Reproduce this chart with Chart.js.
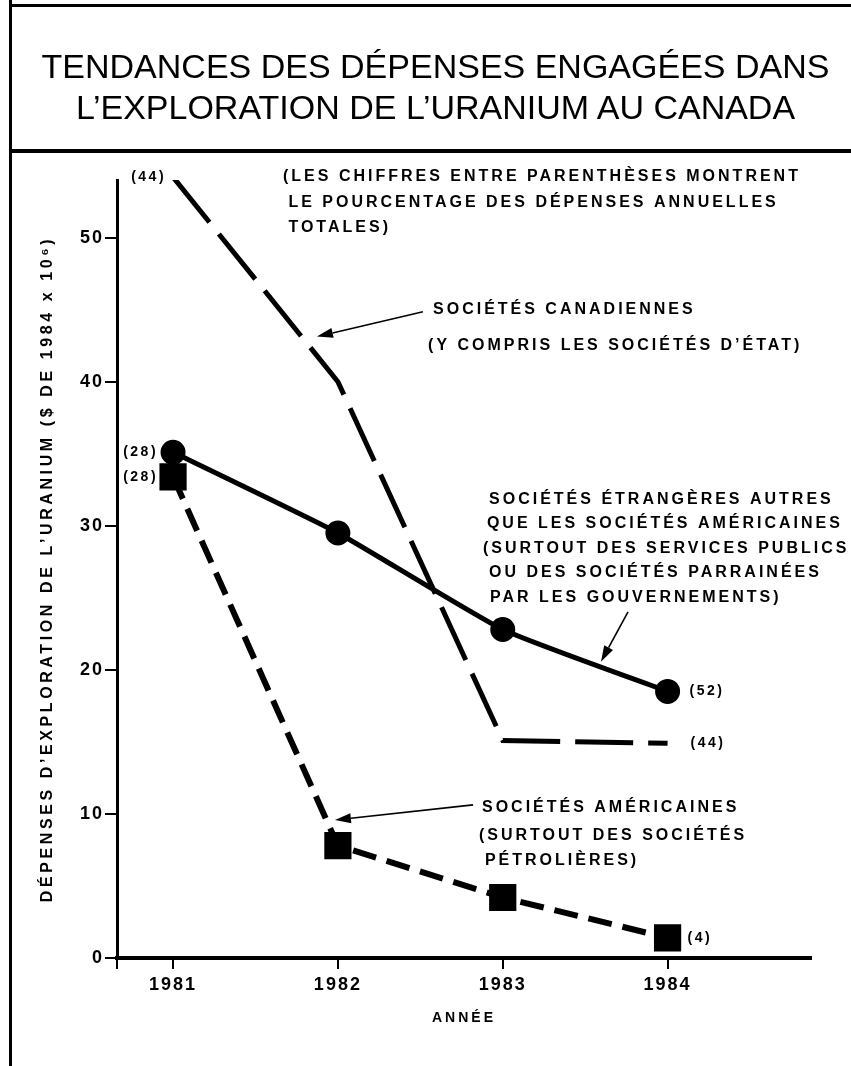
<!DOCTYPE html>
<html>
<head>
<meta charset="utf-8">
<script src="https://cdn.jsdelivr.net/npm/chart.js@4/dist/chart.umd.min.js"></script>
<style>
  body { margin: 0; background: #fff; }
  #wrap { position: relative; width: 851px; height: 1066px; overflow: hidden; }
  #myChart { position: absolute; left: 0; top: 0; }
  .rule { position: absolute; background: #000; }
  #title {
    position: absolute; left: 10px; right: 0; top: 46px;
    text-align: center; padding-left: 10px;
    font: 34px "Liberation Sans", Arial, sans-serif; line-height: 41px; color: #000;
  }
</style>
</head>
<body>
<div id="wrap">
  <canvas id="myChart" width="851" height="1066"></canvas>
  <div class="rule" style="left:9px; top:0; width:3px; height:1066px"></div>
  <div class="rule" style="left:9px; top:4px; right:0; height:3px"></div>
  <div class="rule" style="left:9px; top:149px; right:0; height:4px"></div>
  <div id="title">TENDANCES DES DÉPENSES ENGAGÉES DANS<br>L’EXPLORATION DE L’URANIUM AU CANADA</div>
</div>
<script>
// years on the x axis
const years = [1981, 1982, 1983, 1984];
const yTicks = [0, 10, 20, 30, 40, 50];

// spending, millions of 1984 $
const canadian = [54.2, 40.0, 15.1, 14.9];
const foreign = [35.1, 29.5, 22.8, 18.5];
const american = [33.4, 7.8, 4.2, 1.4];

// share of yearly total, shown beside first / last point
const pctCanadian = ['(44)', '', '', '(44)'];
const pctForeign = ['(28)', '', '', '(52)'];
const pctAmerican = ['(28)', '', '', '(4)'];

const yTitle = 'DÉPENSES D’EXPLORATION DE L’URANIUM ($ DE 1984 x 10⁶)';
const xTitle = 'ANNÉE';

// text notes, placed in data units (year, value)
const notes = [
  { text: '(LES CHIFFRES ENTRE PARENTHÈSES MONTRENT', x: 1981.667, y: 54.24 },
  { text: 'LE POURCENTAGE DES DÉPENSES ANNUELLES', x: 1981.70, y: 52.43 },
  { text: 'TOTALES)', x: 1981.70, y: 50.69 },
  { text: 'SOCIÉTÉS CANADIENNES', x: 1982.577, y: 45.0 },
  { text: '(Y COMPRIS LES SOCIÉTÉS D’ÉTAT)', x: 1982.547, y: 42.5 },
  { text: 'SOCIÉTÉS ÉTRANGÈRES AUTRES', x: 1982.917, y: 31.8 },
  { text: 'QUE LES SOCIÉTÉS AMÉRICAINES', x: 1982.904, y: 30.13 },
  { text: '(SURTOUT DES SERVICES PUBLICS', x: 1982.88, y: 28.4 },
  { text: 'OU DES SOCIÉTÉS PARRAINÉES', x: 1982.917, y: 26.73 },
  { text: 'PAR LES GOUVERNEMENTS)', x: 1982.923, y: 25.0 },
  { text: 'SOCIÉTÉS AMÉRICAINES', x: 1982.874, y: 10.42 },
  { text: '(SURTOUT DES SOCIÉTÉS', x: 1982.856, y: 8.47 },
  { text: 'PÉTROLIÈRES)', x: 1982.892, y: 6.73 }
];

// arrows from note to line: [tailX, tailY, tipX, tipY]
const arrows = [
  [1982.516, 44.86, 1981.873, 43.13],
  [1983.760, 24.03, 1983.596, 20.56],
  [1982.820, 10.63, 1981.982, 9.58]
];

const FONT = '"Liberation Sans", Arial, sans-serif';

function pts(vals) {
  return years.map((x, i) => ({ x: x, y: vals[i] }));
}

// draws percent labels, notes, arrows and axis titles
const notesPlugin = {
  id: 'notes',
  beforeDraw(chart) {
    chart.ctx.letterSpacing = '2px';
  },
  afterDraw(chart) {
    const ctx = chart.ctx;
    const xs = chart.scales.x, ys = chart.scales.y;
    const area = chart.chartArea;
    ctx.save();
    ctx.fillStyle = '#000';
    ctx.strokeStyle = '#000';

    // percent labels
    ctx.font = 'bold 14px ' + FONT;
    ctx.letterSpacing = '2.5px';
    ctx.textBaseline = 'middle';
    chart.data.datasets.forEach((ds) => {
      ds.pct.forEach((t, i) => {
        if (!t) return;
        const px = xs.getPixelForValue(ds.data[i].x);
        const py = ys.getPixelForValue(ds.data[i].y);
        if (i === 0) {
          ctx.textAlign = 'right';
          ctx.fillText(t, px - ds.pctGap[0], py);
        } else {
          ctx.textAlign = 'left';
          ctx.fillText(t, px + ds.pctGap[1], py);
        }
      });
    });

    // notes
    ctx.font = 'bold 16px ' + FONT;
    ctx.letterSpacing = '3px';
    ctx.textAlign = 'left';
    notes.forEach((n) => {
      ctx.fillText(n.text, xs.getPixelForValue(n.x), ys.getPixelForValue(n.y));
    });

    // arrows
    ctx.lineWidth = 1.6;
    arrows.forEach((a) => {
      const x1 = xs.getPixelForValue(a[0]), y1 = ys.getPixelForValue(a[1]);
      const x2 = xs.getPixelForValue(a[2]), y2 = ys.getPixelForValue(a[3]);
      const ang = Math.atan2(y2 - y1, x2 - x1);
      const hl = 16, hw = 5;
      const bx = x2 - hl * Math.cos(ang), by = y2 - hl * Math.sin(ang);
      ctx.beginPath();
      ctx.moveTo(x1, y1);
      ctx.lineTo(bx, by);
      ctx.stroke();
      ctx.beginPath();
      ctx.moveTo(x2, y2);
      ctx.lineTo(bx + hw * Math.sin(ang), by - hw * Math.cos(ang));
      ctx.lineTo(bx - hw * Math.sin(ang), by + hw * Math.cos(ang));
      ctx.closePath();
      ctx.fill();
    });

    // axis titles
    ctx.font = 'bold 16px ' + FONT;
    ctx.letterSpacing = '3.6px';
    ctx.textAlign = 'center';
    ctx.save();
    ctx.translate(48, (area.top + area.bottom) / 2);
    ctx.rotate(-Math.PI / 2);
    ctx.fillText(yTitle, 0, 0);
    ctx.restore();
    ctx.font = 'bold 14px ' + FONT;
    ctx.letterSpacing = '3px';
    ctx.fillText(xTitle, (area.left + area.right) / 2, 1018);
    ctx.restore();
  }
};

const ctx = document.getElementById('myChart').getContext('2d');
const myChart = new Chart(ctx, {
  type: 'line',
  data: {
    datasets: [
      {
        label: 'Sociétés étrangères',
        data: pts(foreign),
        pct: pctForeign,
        pctGap: [15, 22],
        borderColor: '#000',
        backgroundColor: '#000',
        borderWidth: 5,
        tension: 0.15,
        pointStyle: 'circle',
        pointRadius: 10,
        pointHoverRadius: 10
      },
      {
        label: 'Sociétés canadiennes',
        data: pts(canadian),
        pct: pctCanadian,
        pctGap: [7, 23],
        borderColor: '#000',
        borderWidth: 5,
        borderDash: [58, 15],
        pointRadius: 0,
        tension: 0
      },
      {
        label: 'Sociétés américaines',
        data: pts(american),
        pct: pctAmerican,
        pctGap: [15, 20],
        borderColor: '#000',
        backgroundColor: '#000',
        borderWidth: 6,
        borderDash: [24, 11],
        pointStyle: 'rect',
        pointRadius: 15,
        pointHoverRadius: 15,
        tension: 0
      }
    ]
  },
  options: {
    responsive: false,
    animation: false,
    layout: { padding: { top: 180, right: 40, left: 0, bottom: 0 } },
    plugins: {
      legend: { display: false },
      tooltip: { enabled: false }
    },
    scales: {
      x: {
        type: 'linear',
        min: 1980.66,
        max: 1984.87,
        afterBuildTicks: (s) => {
          s.ticks = [s.min].concat(years).map((v) => ({ value: v }));
        },
        afterFit: (s) => { s.height = 108; },
        ticks: {
          autoSkip: false,
          maxRotation: 0,
          padding: 5,
          color: '#000',
          font: { family: FONT, size: 18, weight: 'bold' },
          callback: (v) => (Number.isInteger(v) ? String(v) : '')
        },
        grid: {
          drawOnChartArea: false,
          drawTicks: true,
          tickLength: 11,
          lineWidth: 2,
          color: '#000'
        },
        border: { display: true, width: 4, color: '#000' }
      },
      y: {
        min: 0,
        max: 54,
        afterBuildTicks: (s) => {
          s.ticks = yTicks.map((v) => ({ value: v }));
        },
        afterFit: (s) => { s.width = 117; },
        ticks: {
          padding: 1,
          color: '#000',
          font: { family: FONT, size: 18, weight: 'bold' }
        },
        grid: {
          drawOnChartArea: false,
          drawTicks: true,
          tickLength: 12,
          lineWidth: 2,
          color: '#000'
        },
        border: { display: true, width: 3, color: '#000' }
      }
    }
  },
  plugins: [notesPlugin]
});
</script>
</body>
</html>
